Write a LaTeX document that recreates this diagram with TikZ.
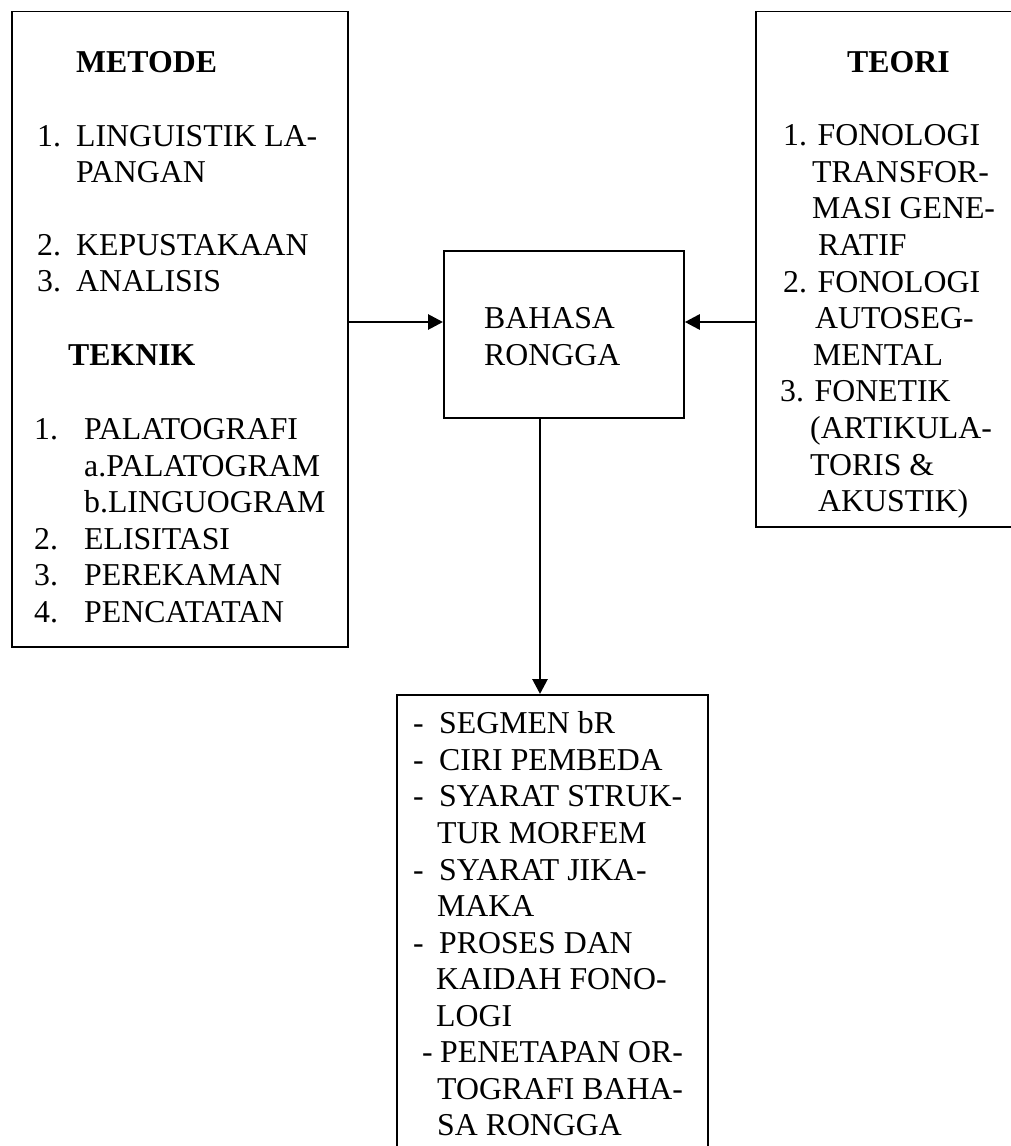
\documentclass[tikz,border=0pt]{standalone}
\usepackage{fontspec}
\setmainfont{Liberation Serif}
\usetikzlibrary{arrows.meta}
\tikzset{
  box/.style={draw, line width=1.8pt, inner sep=0pt, anchor=north west},
  conn/.style={line width=2.8pt, -{Triangle[length=15pt,width=15pt]}},
  tx/.style={anchor=base west, inner sep=0pt, font=\fontsize{31.8pt}{36.6pt}\selectfont},
  hd/.style={anchor=base west, inner sep=0pt, font=\fontsize{31.8pt}{36.6pt}\selectfont\bfseries},
}
\begin{document}
\begin{tikzpicture}[x=1pt,y=-1pt]
\useasboundingbox (0,0) rectangle (1011,1146);
\clip (0,0) rectangle (1011,1146);

% boxes
\node[box, minimum width=336pt, minimum height=635.5pt] (metode) at (11,10.5) {};
\node[box, minimum width=300pt, minimum height=515.5pt] (teori) at (755,10.5) {};
\node[box, minimum width=240pt, minimum height=167pt] (bahasa) at (443,250) {};
\node[box, minimum width=311pt, minimum height=500pt] (hasil) at (396,694) {};

% left box text
\node[hd] (mh) at (76,72) {METODE};
\node[tx] (mn1) at (37,146) {1.};
\node[tx] (mt1) at (76,146) {LINGUISTIK LA-};
\node[tx] (mt1b) at (76,182) {PANGAN};
\node[tx] (mn2) at (37,255) {2.};
\node[tx] (mt2) at (76,255) {KEPUSTAKAAN};
\node[tx] (mn3) at (37,291) {3.};
\node[tx] (mt3) at (76,291) {ANALISIS};
\node[hd] (th) at (68,365) {TEKNIK};
\node[tx] (tn1) at (34,439) {1.};
\node[tx] (tt1) at (84,439) {PALATOGRAFI};
\node[tx] (tt1a) at (84,476) {a.PALATOGRAM};
\node[tx] (tt1b) at (84,512) {b.LINGUOGRAM};
\node[tx] (tn2) at (34,549) {2.};
\node[tx] (tt2) at (84,549) {ELISITASI};
\node[tx] (tn3) at (34,585) {3.};
\node[tx] (tt3) at (84,585) {PEREKAMAN};
\node[tx] (tn4) at (34,622) {4.};
\node[tx] (tt4) at (84,622) {PENCATATAN};

% right box text
\node[hd] (rh) at (847,72) {TEORI};
\node[tx] (r1) at (783,145) {1. FONOLOGI};
\node[tx] (r2) at (812,182) {TRANSFOR-};
\node[tx] (r3) at (812,218) {MASI GENE-};
\node[tx] (r4) at (818,255) {RATIF};
\node[tx] (r5) at (783,292) {2. FONOLOGI};
\node[tx] (r6) at (815,328) {AUTOSEG-};
\node[tx] (r7) at (813,365) {MENTAL};
\node[tx] (r8) at (780,401) {3. FONETIK};
\node[tx] (r9) at (810,438) {(ARTIKULA-};
\node[tx] (r10) at (810,475) {TORIS \&};
\node[tx] (r11) at (818,511) {AKUSTIK)};

% center text
\node[tx] (c1) at (484,328) {BAHASA};
\node[tx] (c2) at (484,365) {RONGGA};

% bottom box text
\node[tx] (bd1) at (413,733) {-};
\node[tx] (b1) at (439,733) {SEGMEN bR};
\node[tx] (bd2) at (413,770) {-};
\node[tx] (b2) at (439,770) {CIRI PEMBEDA};
\node[tx] (bd3) at (413,806) {-};
\node[tx] (b3) at (439,806) {SYARAT STRUK-};
\node[tx] (b3b) at (437,843) {TUR MORFEM};
\node[tx] (bd4) at (413,880) {-};
\node[tx] (b4) at (439,880) {SYARAT JIKA-};
\node[tx] (b4b) at (437,916) {MAKA};
\node[tx] (bd5) at (413,953) {-};
\node[tx] (b5) at (439,953) {PROSES DAN};
\node[tx] (b5b) at (436,989) {KAIDAH FONO-};
\node[tx] (b5c) at (436,1026) {LOGI};
\node[tx] (bd6) at (422,1062) {-};
\node[tx] (b6) at (440,1062) {PENETAPAN OR-};
\node[tx] (b6b) at (437,1099) {TOGRAFI BAHA-};
\node[tx] (b6c) at (437,1135) {SA RONGGA};

% connectors
\coordinate (ly) at (0,322);
\coordinate (vx) at (540,0);
\draw[conn] (metode.east |- ly) -- (bahasa.west |- ly);
\draw[conn] (teori.west |- ly) -- (bahasa.east |- ly);
\draw[conn] (bahasa.south -| vx) -- (hasil.north -| vx);
\end{tikzpicture}
\end{document}
